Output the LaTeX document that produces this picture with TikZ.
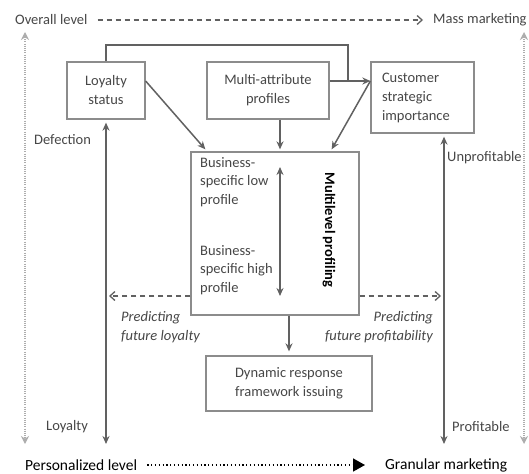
\documentclass[tikz,border=0pt]{standalone}
\usepackage{fontspec}
\setmainfont{Carlito}
\usetikzlibrary{arrows.meta,calc}

\begin{document}
\begin{tikzpicture}[x=1pt,y=-1pt,
    box/.style={draw=black!45, line width=1.3pt, text=black!72, align=center, inner sep=0pt, font=\fontsize{14.5}{19}\selectfont},
    lbl/.style={text=black!72, inner sep=0pt, font=\fontsize{14.5}{18.5}\selectfont},
    conn/.style={draw=black!62, line width=1.5pt, -{Stealth[length=8pt,width=7pt]}},
    dashconn/.style={draw=black!62, line width=1.3pt, dash pattern=on 5pt off 4pt, -{Straight Barb[length=5pt,width=9pt]}},
    sidearrow/.style={draw=black!32, line width=2.4pt, dash pattern=on 1pt off 1.2pt, {Stealth[length=8pt,width=8pt]}-{Stealth[length=8pt,width=8pt]}}]
  \useasboundingbox (0,0) rectangle (529,473);
  \fill[white] (0,0) rectangle (529,473);

  % level captions
  \node[lbl, anchor=west] (overall) at (15,20) {Overall level};
  \node[lbl, anchor=west] (mass) at (433,20) {Mass marketing};
  \draw[dashconn] ([xshift=10pt]overall.east) -- ([xshift=-10pt]mass.west);
  \node[anchor=west, inner sep=0pt, font=\fontsize{15.5}{18}\selectfont] (pers) at (25,465) {Personalized level};
  \node[anchor=west, inner sep=0pt, font=\fontsize{15.5}{18}\selectfont] (gran) at (385,465) {Granular marketing};
  \draw[line width=1.6pt, dash pattern=on 1.2pt off 2.6pt, -{Triangle[length=12pt,width=13pt]}] ([xshift=10pt]pers.east) -- ([xshift=-20pt]gran.west);

  % outer dotted axes
  \coordinate (ltop) at (25,32);
  \coordinate (lend) at (25,444);
  \coordinate (rtop) at (524,32);
  \coordinate (rend) at (524,444);
  \draw[sidearrow] (ltop) -- (lend);
  \draw[sidearrow] (rtop) -- (rend);

  % boxes
  \node[box, minimum width=78, minimum height=57] (loyal) at (106,90.5) {Loyalty\\status};
  \node[box, minimum width=122, minimum height=57] (multi) at (268,90.5) {Multi-attribute\\profiles};
  \node[box, minimum width=103, minimum height=71, text width=81, align=left] (cust) at (422.5,97.5) {Customer\\strategic\\importance};
  \node[box, minimum width=168, minimum height=163] (prof) at (275,233.5) {};
  \node[box, minimum width=166, minimum height=55] (dyn) at (289,383.5) {Dynamic response\\framework issuing};

  % inside the profiling box
  \node[lbl, anchor=north west, align=left] (low) at (200,157) {Business-\\specific low\\profile};
  \node[lbl, anchor=north west, align=left] (high) at (200,245) {Business-\\specific high\\profile};
  \node[lbl, text=black, font=\fontsize{14.5}{18}\selectfont\bfseries, rotate=-90] (mlp) at (329,230) {Multilevel profiling};
  \coordinate (lowtip) at (280,167);
  \coordinate (hightip) at (280,296);
  \draw[conn, {Stealth[length=8pt,width=7pt]}-{Stealth[length=8pt,width=7pt]}] (lowtip) -- (hightip);

  % connectors
  \coordinate (join) at (348,81);
  \draw[draw=black!62, line width=1.5pt] (loyal.north) -- ++(0,-16.5) -| (join);
  \draw[conn] (multi.east |- join) -- (cust.west |- join);
  \draw[conn] (loyal.east |- join) -- ([xshift=15pt,yshift=2pt]prof.north west);
  \draw[conn] (multi.south -| hightip) -- ([yshift=2pt]prof.north -| hightip);
  \draw[conn] (cust.west |- join) -- ([xshift=-28pt,yshift=2pt]prof.north east);
  \draw[conn] (prof.south -| dyn.north) -- ([yshift=4pt]dyn.north);

  % inner axes
  \coordinate (lbot) at (106,444);
  \coordinate (rbot) at (444,444);
  \draw[conn, {Stealth[length=8pt,width=7pt]}-{Stealth[length=8pt,width=7pt]}] ([yshift=-3pt]loyal.south) -- (lbot);
  \draw[conn, {Stealth[length=8pt,width=7pt]}-{Stealth[length=8pt,width=7pt]}] ([yshift=-3pt]rbot |- cust.south) -- (rbot);
  \draw[dashconn] (prof.west |- hightip) -- ([xshift=3pt]lbot |- hightip);
  \draw[dashconn] (prof.east |- hightip) -- ([xshift=-3pt]rbot |- hightip);

  % axis labels
  \foreach \t/\x/\y [count=\i] in {Defection/34/140, Unprofitable/447/158, Loyalty/46/427, Profitable/452/427} {
    \node[lbl, anchor=west] (ax\i) at (\x,\y) {\t};
  }
  \node[lbl, anchor=north west, align=left, font=\fontsize{14.5}{19}\selectfont\itshape] (predl) at (121,311) {Predicting\\future loyalty};
  \node[lbl, anchor=north east, align=right, font=\fontsize{14.5}{19}\selectfont\itshape] (predp) at (433,311) {Predicting\\future profitability};
\end{tikzpicture}
\end{document}
